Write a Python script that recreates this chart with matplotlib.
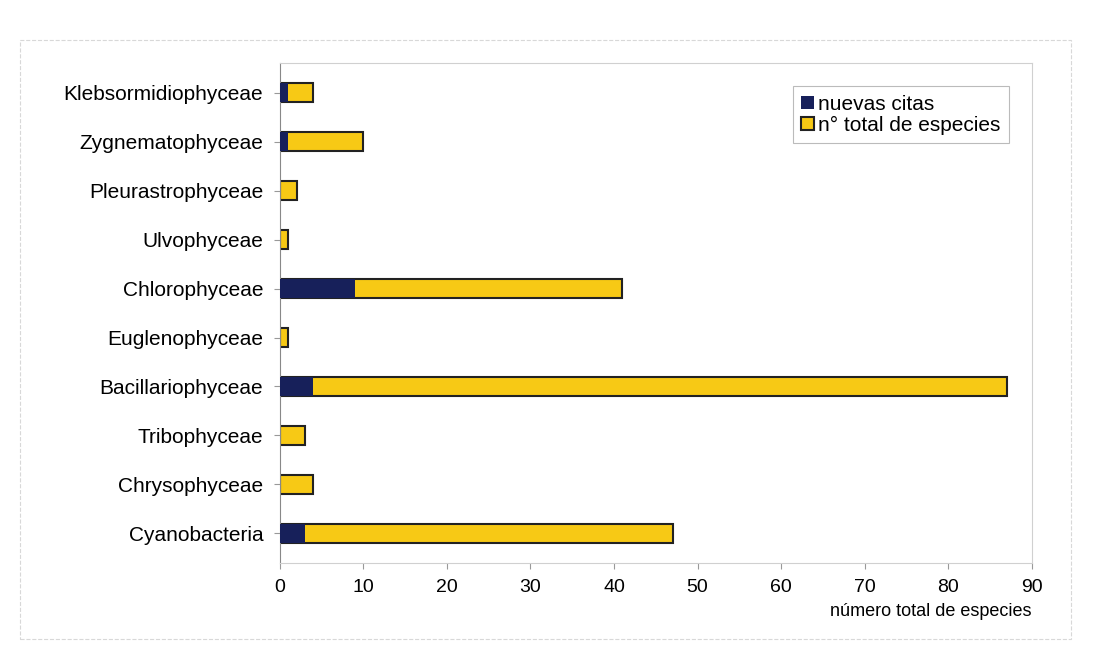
import numpy as np
import matplotlib.pyplot as plt
from matplotlib.patches import Rectangle

plt.rcParams['font.family'] = ['Liberation Sans', 'DejaVu Sans']

clases = ["Cyanobacteria", "Chrysophyceae", "Tribophyceae", "Bacillariophyceae",
          "Euglenophyceae", "Chlorophyceae", "Ulvophyceae", "Pleurastrophyceae",
          "Zygnematophyceae", "Klebsormidiophyceae"]
total = [47, 4, 3, 87, 1, 41, 1, 2, 10, 4]
nuevas = [3, 0, 0, 4, 0, 9, 0, 0, 1, 1]
xticks = [0, 10, 20, 30, 40, 50, 60, 70, 80, 90]

navy = "#17205a"
amarillo = "#f7c915"

fig = plt.figure(figsize=(10.93, 6.66), dpi=100)
ax = fig.add_axes([0.256, 0.155, 0.688, 0.75])

# marco exterior del grafico
fig.patches.append(Rectangle((0.018, 0.04), 0.962, 0.90, transform=fig.transFigure,
                             fill=False, edgecolor="#d8d8d8", lw=0.8, ls="--"))

y = np.arange(len(clases))
ax.barh(y, total, height=0.4, color=amarillo, edgecolor="#222222", lw=1.5,
        label="n° total de especies", zorder=2)
ax.barh(y, nuevas, height=0.4, color=navy, edgecolor=navy, lw=0,
        label="nuevas citas", zorder=3)

ax.set_xlim(0, 90)
ax.set_ylim(-0.6, len(clases) - 0.4)
ax.set_xticks(xticks)
ax.set_yticks(y)
ax.set_yticklabels(clases)
ax.tick_params(axis="y", labelsize=15, length=4, color="#999999", pad=8)
ax.tick_params(axis="x", labelsize=14, length=4, color="#999999", pad=8)

for s in ["top", "right", "bottom"]:
    ax.spines[s].set_color("#d0d0d0")
    ax.spines[s].set_linewidth(0.8)
ax.spines["left"].set_color("#888888")

ax.set_xlabel("número total de especies", fontsize=13, loc="right", labelpad=5)

h, l = ax.get_legend_handles_labels()
leg = ax.legend(h[::-1], l[::-1], loc="upper right", bbox_to_anchor=(0.983, 0.975),
                fontsize=15, frameon=True, fancybox=False, edgecolor="#aaaaaa",
                handlelength=0.6, handleheight=0.6, handletextpad=0.2,
                borderpad=0.4, labelspacing=0.1)
leg.get_frame().set_linewidth(0.8)

fig.savefig("out.png", dpi=100)
